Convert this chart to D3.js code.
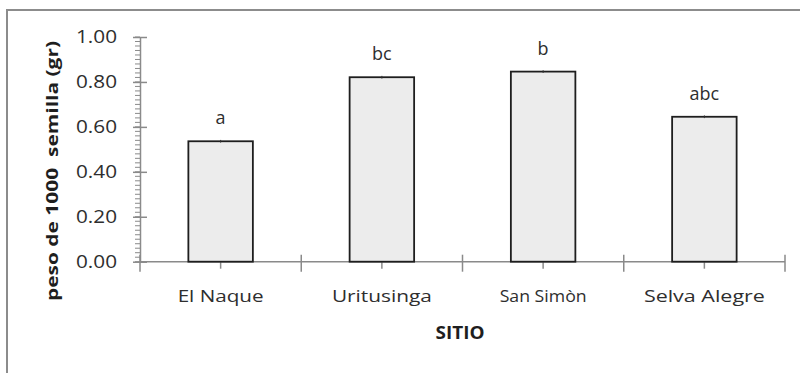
<!DOCTYPE html>
<html><head><meta charset="utf-8">
<script src="https://cdn.jsdelivr.net/npm/d3@7/dist/d3.min.js"></script>
<style>body{margin:0;background:#fff}svg{display:block}</style>
</head><body><svg id="c" width="800" height="373"></svg>
<script>
const categories = ["El Naque", "Uritusinga", "San Simòn", "Selva Alegre"];
const values = [0.536, 0.821, 0.846, 0.645];
const errors = [0.006, 0.006, 0.006, 0.006];
const letters = ["a", "bc", "b", "abc"];
const yTicks = [0, 0.2, 0.4, 0.6, 0.8, 1.0];
const catWidths = [86, 100, 87, 121];

const svg = d3.select("#c");
const txt = "#2e2e2e";
const axc = "#8a8a8a";
const font = "Open Sans, sans-serif";

// outer frame
svg.append("rect").attr("x", 7).attr("y", 10).attr("width", 820).attr("height", 400)
  .attr("fill", "none").attr("stroke", "#8c8c8c").attr("stroke-width", 2);

const x = d3.scaleBand().domain(categories).range([140, 785]).padding(0);
const y = d3.scaleLinear().domain([0, 1]).range([261.7, 37]);
const bw = x.bandwidth() * 0.4;

// minor ticks
const minor = d3.range(0, 1.0001, 0.02);
svg.append("g").selectAll("line").data(minor).join("line")
  .attr("x1", 135).attr("x2", 140).attr("y1", d => y(d)).attr("y2", d => y(d))
  .attr("stroke", axc).attr("stroke-width", 1);

// y axis
const yAxis = d3.axisLeft(y).tickValues(yTicks).tickFormat(d3.format(".2f")).tickSizeInner(7).tickSizeOuter(0).tickPadding(16);
const gy = svg.append("g").attr("transform", "translate(140,0)").call(yAxis);
gy.select(".domain").attr("stroke", axc).attr("stroke-width", 1.5);
gy.selectAll(".tick line").attr("x1", -7).attr("x2", 7).attr("stroke", axc).attr("stroke-width", 1.5);
gy.selectAll(".tick text").attr("font-family", font).attr("font-size", 17.5)
  .attr("fill", txt).attr("textLength", 41).attr("lengthAdjust", "spacingAndGlyphs").attr("dy", "0.34em");

// x axis
svg.append("line").attr("x1", 140).attr("x2", 785).attr("y1", y(0)).attr("y2", y(0))
  .attr("stroke", axc).attr("stroke-width", 1.5);
const edges = categories.map(c => x(c)).concat([x(categories[categories.length - 1]) + x.bandwidth()]);
svg.append("g").selectAll("line").data(edges).join("line")
  .attr("x1", d => d).attr("x2", d => d).attr("y1", y(0) - 7).attr("y2", y(0) + 10)
  .attr("stroke", axc).attr("stroke-width", 1.5);
svg.append("g").selectAll("line").data(categories).join("line")
  .attr("x1", d => x(d) + x.bandwidth() / 2).attr("x2", d => x(d) + x.bandwidth() / 2)
  .attr("y1", y(0) - 5).attr("y2", y(0) + 7)
  .attr("stroke", axc).attr("stroke-width", 1.5);

// bars
svg.append("g").selectAll("rect").data(values).join("rect")
  .attr("x", (d, i) => x(categories[i]) + (x.bandwidth() - bw) / 2)
  .attr("width", bw)
  .attr("y", d => y(d)).attr("height", d => y(0) - y(d))
  .attr("fill", "#ececec").attr("stroke", "#1e1e1e").attr("stroke-width", 1.8);

// tiny error bars
svg.append("g").selectAll("line").data(values).join("line")
  .attr("x1", (d, i) => x(categories[i]) + x.bandwidth() / 2)
  .attr("x2", (d, i) => x(categories[i]) + x.bandwidth() / 2)
  .attr("y1", (d, i) => y(d + errors[i])).attr("y2", (d, i) => y(d - errors[i]))
  .attr("stroke", "#333").attr("stroke-width", 1);

// letters
svg.append("g").selectAll("text").data(letters).join("text")
  .attr("x", (d, i) => x(categories[i]) + x.bandwidth() / 2)
  .attr("y", (d, i) => y(values[i]) - 17)
  .attr("text-anchor", "middle").attr("font-family", font).attr("font-size", 18)
  .attr("fill", txt).text(d => d);

// category labels
svg.append("g").selectAll("text").data(categories).join("text")
  .attr("x", d => x(d) + x.bandwidth() / 2).attr("y", 302)
  .attr("text-anchor", "middle").attr("font-family", font).attr("font-size", 17)
  .attr("fill", txt).attr("textLength", (d, i) => catWidths[i]).attr("lengthAdjust", "spacingAndGlyphs")
  .text(d => d);

// axis titles
svg.append("text").attr("x", 460).attr("y", 339).attr("text-anchor", "middle")
  .attr("font-family", font).attr("font-weight", "bold").attr("font-size", 17)
  .attr("fill", "#1e1e1e").attr("textLength", 49).attr("lengthAdjust", "spacingAndGlyphs").text("SITIO");

svg.append("text").attr("transform", "translate(58,171) rotate(-90)").attr("text-anchor", "middle")
  .attr("font-family", font).attr("font-weight", "bold").attr("font-size", 16)
  .attr("fill", "#1e1e1e").attr("textLength", 260).attr("lengthAdjust", "spacingAndGlyphs")
  .style("white-space", "pre").text("peso de 1000  semilla (gr)");
</script></body></html>
